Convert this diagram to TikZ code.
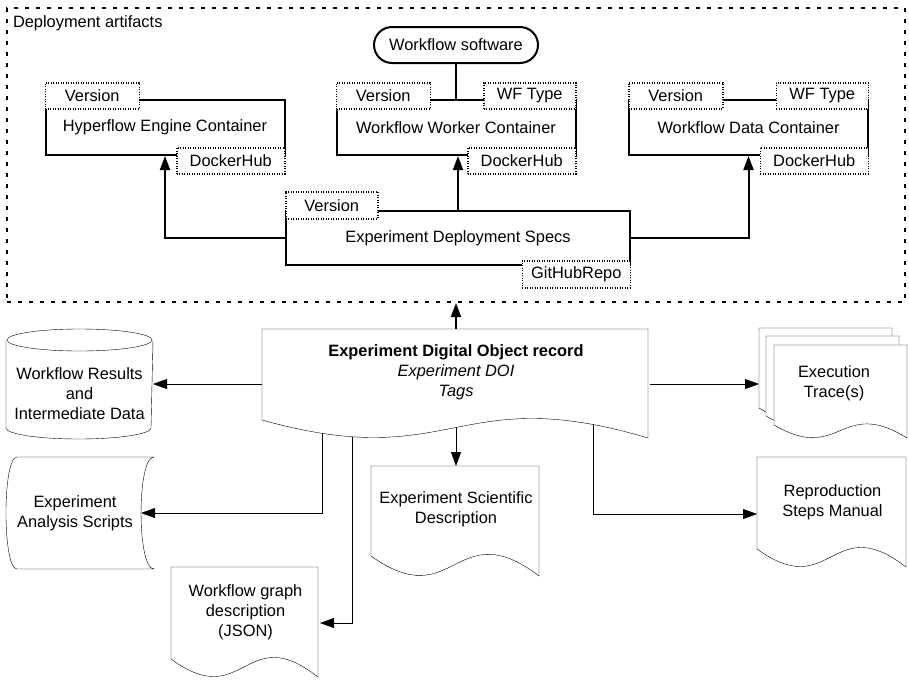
\documentclass[tikz,border=0pt]{standalone}
\usepackage{fontspec}
\setmainfont{Liberation Sans}
\usetikzlibrary{arrows.meta,calc,backgrounds}

\newcommand\diafont{\fontsize{16.4}{20}\selectfont}

% page with a wavy bottom edge
% #1 north west corner, #2 width, #3 height of left side, #4 wave depth
\newcommand\docpage[4]{%
  \coordinate (dp) at #1;
  \draw[outline] (dp) -- ($(dp)+(#2,0)$) -- ($(dp)+(#2,-#3-#4)$)
    .. controls ($(dp)+(0.5*#2,-#3+2.2*#4)$) and ($(dp)+(0.5*#2,-#3-3*#4)$)
    .. ($(dp)+(0,-#3)$) -- cycle;%
}

\begin{document}
\begin{tikzpicture}[x=1pt, y=1pt, line width=2pt,
    every node/.style={font=\diafont},
    box/.style={draw, minimum width=239pt, minimum height=55pt, inner sep=0pt},
    tag/.style={draw, fill=white, line width=1.5pt, dash pattern=on 1.2pt off 1.3pt,
      minimum height=26pt, inner sep=0pt},
    area/.style={draw, dash pattern=on 4pt off 7pt, minimum width=898pt,
      minimum height=294pt, inner sep=0pt},
    shapetext/.style={inner sep=0pt, align=center},
    outline/.style={draw, fill=white},
    arr/.style={-{Triangle[length=14pt,width=10pt]}}]
  \useasboundingbox (0,0) rectangle (909,-680);

  % deployment artifacts area
  \node[area] (deploy) at (456,-155) {};
  \node[anchor=north west, inner sep=0pt] (artlabel) at (12,-15) {Deployment artifacts};

  % containers with their tags
  \node[box] (hyp) at (165,-127.5) {Hyperflow Engine Container};
  \node[box] (wrk) at (456,-127.5) {Workflow Worker Container};
  \node[box] (dat) at (748.5,-127.5) {Workflow Data Container};
  \foreach \c in {hyp,wrk,dat} {
    \node[tag, minimum width=94pt, anchor=north west] (\c-ver) at ([yshift=17pt]\c.north west) {Version};
    \node[tag, minimum width=108pt, anchor=north east] (\c-hub) at ([yshift=9pt]\c.south east) {DockerHub};
  }
  \foreach \c in {wrk,dat} {
    \node[tag, minimum width=92pt, anchor=north east] (\c-type) at ([yshift=17pt]\c.north east) {WF Type};
  }

  % workflow software
  \node[draw, rounded corners=18pt, minimum width=164pt, minimum height=36pt, inner sep=0pt] (wfsw) at (456,-45) {Workflow software};
  \draw (wfsw.south) -- (wfsw.south |- wrk.north);

  % deployment specs
  \node[box, minimum width=344pt, minimum height=54pt] (specs) at (458,-238) {Experiment Deployment Specs};
  \node[tag, minimum width=92pt, minimum height=27pt, anchor=north west] (specs-ver) at ([yshift=19pt]specs.north west) {Version};
  \node[tag, minimum width=108pt, minimum height=27pt, anchor=north east] (specs-repo) at ([yshift=6pt]specs.south east) {GitHubRepo};
  \draw[arr] (specs.west) -| (hyp.south);
  \draw[arr] (specs.east) -| (dat.south);
  \draw[arr] (specs.north) -- (specs.north |- wrk.south);

  % digital object record
  \node[shapetext, minimum width=386pt, minimum height=84pt] (dor) at (456,-372)
    {\textbf{Experiment Digital Object record}\\\textit{Experiment DOI}\\\textit{Tags}};
  \coordinate (dorL) at ([yshift=-12pt]dor.west);
  \coordinate (dorR) at ([yshift=-12pt]dor.east);
  \draw[arr] (dor.north) -- (deploy.south);

  % linked objects
  \node[shapetext, minimum width=145pt, minimum height=86pt] (res) at (79.5,-394) {Workflow Results\\and\\Intermediate Data};
  \node[shapetext, minimum width=130pt, minimum height=110pt] (scr) at (75,-513) {Experiment\\Analysis Scripts};
  \node[shapetext, minimum width=147pt, minimum height=88pt] (wfg) at (245.5,-612) {Workflow graph\\description\\(JSON)};
  \node[shapetext, minimum width=168pt, minimum height=85pt] (sci) at (456,-509.5) {Experiment Scientific\\Description};
  \node[shapetext, minimum width=148pt, minimum height=108pt] (trc) at (834,-383) {Execution\\Trace(s)};
  \node[shapetext, minimum width=149pt, minimum height=89pt] (man) at (832.5,-502.5) {Reproduction\\Steps Manual};

  \begin{scope}[on background layer]
    % connectors first, outlines cover their start
    \draw[arr] (dorL) -- (dorL -| res.east);
    \draw[arr] (dorR) -- (dorR -| trc.west);
    \draw[arr] (dor.south) -- (sci.north);
    \draw[arr] ([xshift=60pt]dor.south west) |- (scr.east);
    \draw[arr] ([xshift=90pt]dor.south west) |- ([yshift=-11pt]wfg.east);
    \draw[arr] ([xshift=-57pt]dor.south east) |- ([yshift=-11.5pt]man.west);

    % document shapes
    \docpage{(dor.north west)}{386}{91}{18}
    \docpage{(sci.north west)}{168}{90}{20}
    \docpage{(wfg.north west)}{147}{92}{18}
    \docpage{(man.north west)}{149}{92}{18}
    \foreach \dx/\dy in {0/0, 7/8, 15/17} {
      \docpage{($(trc.north west)+(\dx,-\dy)$)}{133}{80}{13}
    }

    % cylinder
    \draw[outline] ($(res.north west)+(0,10)$) -- ($(res.south west)+(0,10)$)
      arc[start angle=180, end angle=360, x radius=72.5, y radius=11]
      -- ($(res.north east)+(0,10)$);
    \draw[outline] ($(res.north)+(0,10)$) ellipse[x radius=72.5, y radius=11];

    % stored data
    \draw[outline] ($(scr.north west)+(8,0)$) -- ($(scr.north east)+(13,0)$)
      .. controls ($(scr.north east)+(-4.3,0)$) and ($(scr.south east)+(-4.3,0)$) .. ($(scr.south east)+(13,0)$)
      -- ($(scr.south west)+(8,0)$)
      .. controls ($(scr.south west)+(-6.7,0)$) and ($(scr.north west)+(-6.7,0)$) .. ($(scr.north west)+(8,0)$) -- cycle;
  \end{scope}
\end{tikzpicture}
\end{document}
